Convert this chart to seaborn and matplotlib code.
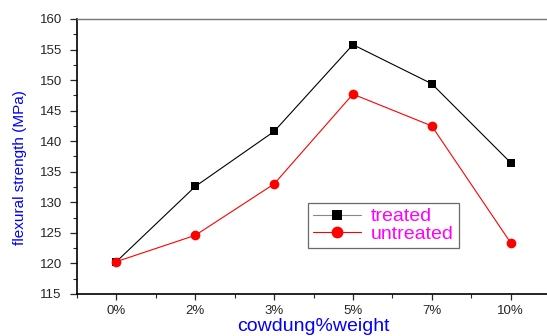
import matplotlib
matplotlib.use("Agg")
import matplotlib.pyplot as plt
import seaborn as sns
import numpy as np
import pandas as pd
from matplotlib.ticker import MultipleLocator

categories = ["0%", "2%", "3%", "5%", "7%", "10%"]
treated = [120.3, 132.6, 141.6, 155.8, 149.4, 136.5]
untreated = [120.3, 124.6, 133.0, 147.7, 142.5, 123.4]

sns.set_style("ticks")
plt.rcParams['font.family'] = ['Liberation Sans', 'DejaVu Sans']

pos = np.arange(len(categories))
df = pd.DataFrame({
    "x": np.concatenate([pos, pos]),
    "y": treated + untreated,
    "series": ["treated"] * len(pos) + ["untreated"] * len(pos),
})

fig = plt.figure(figsize=(5.47, 3.36), dpi=100)
ax = fig.add_axes([0.1408, 0.125, 0.8647, 0.8185])

sns.lineplot(data=df[df.series == "treated"], x="x", y="y", ax=ax, color="black",
             marker="s", markersize=5.5, markeredgewidth=0, linewidth=0.8, label="treated")
sns.lineplot(data=df[df.series == "untreated"], x="x", y="y", ax=ax, color="red",
             marker="o", markersize=7, markeredgewidth=0, linewidth=0.8, label="untreated")

ax.set_xlim(-0.5, 5.5)
ax.set_ylim(115, 160)
ax.set_xticks(pos)
ax.set_xticklabels(categories, fontsize=9.5)
ax.xaxis.set_minor_locator(MultipleLocator(0.5))
ax.yaxis.set_major_locator(MultipleLocator(5))
ax.yaxis.set_minor_locator(MultipleLocator(2.5))
ax.tick_params(axis='y', labelsize=9.5, direction='out', length=5, width=0.9, pad=6)
ax.tick_params(axis='x', direction='out', length=4, width=0.9, pad=4)
ax.tick_params(which='minor', direction='out', length=3, width=0.8)

for s in ['left', 'bottom']:
    ax.spines[s].set_linewidth(1.2)
    ax.spines[s].set_color('black')
ax.spines['top'].set_visible(True)
ax.spines['top'].set_color('#777777')
ax.spines['top'].set_linewidth(1.0)
ax.spines['right'].set_visible(False)

ax.set_xlabel("cowdung%weight", color="blue", fontsize=14)
ax.xaxis.set_label_coords(0.5, -0.088, transform=ax.transAxes)
ax.xaxis.label.set_verticalalignment('top')
ax.set_ylabel("flexural strength (MPa)", color="blue", fontsize=11)
ax.yaxis.set_label_coords(-0.105, 0.46, transform=ax.transAxes)

leg = ax.legend(loc='upper left', bbox_to_anchor=(0.488, 0.331), frameon=True, fancybox=False,
                fontsize=14, handlelength=2.5, handletextpad=0.5, borderpad=0.25,
                borderaxespad=0, labelspacing=0.0, edgecolor='#444444')
leg.get_frame().set_linewidth(0.9)
for t in leg.get_texts():
    t.set_color('magenta')
leg.get_lines()[0].set_color('#888888')
leg.get_lines()[0].set_markerfacecolor('black')
leg.get_lines()[0].set_markersize(7)
leg.get_lines()[1].set_markersize(8.5)

fig.savefig("out.png", dpi=100)
